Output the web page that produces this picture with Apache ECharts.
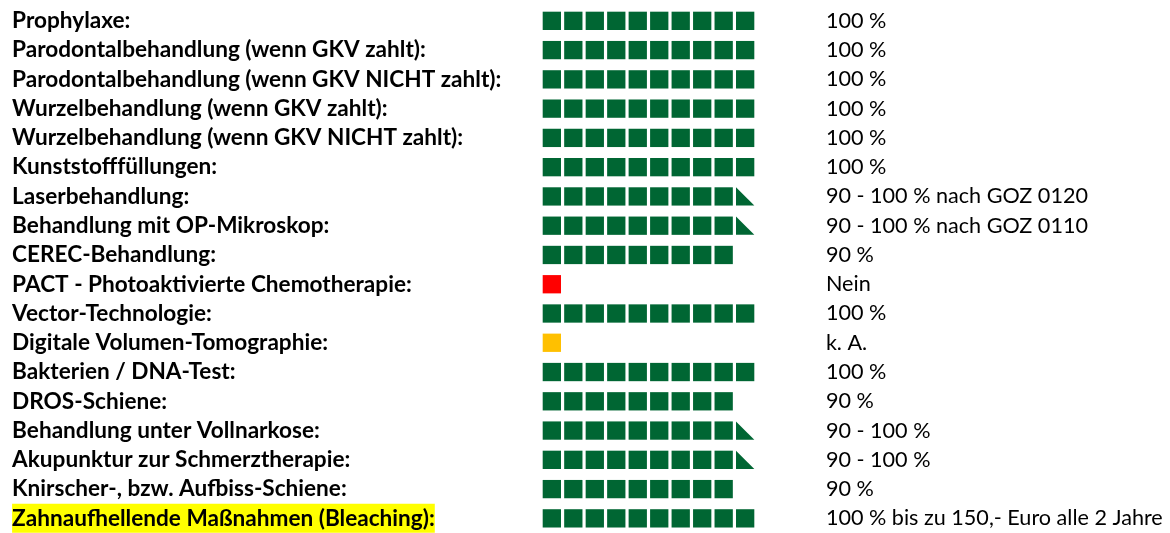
<!DOCTYPE html>
<html>
<head>
<meta charset="utf-8">
<script src="https://cdn.jsdelivr.net/npm/echarts@6/dist/echarts.min.js"></script>
<style>
  html, body { margin: 0; padding: 0; background: #fff; }
  #chart { width: 1170px; height: 533px; }
</style>
</head>
<body>
<div id="chart"></div>
<script>
// Leistungen (Zeilen von oben nach unten)
const labels = [
  'Prophylaxe:',
  'Parodontalbehandlung (wenn GKV zahlt):',
  'Parodontalbehandlung (wenn GKV NICHT zahlt):',
  'Wurzelbehandlung (wenn GKV zahlt):',
  'Wurzelbehandlung (wenn GKV NICHT zahlt):',
  'Kunststofffüllungen:',
  'Laserbehandlung:',
  'Behandlung mit OP-Mikroskop:',
  'CEREC-Behandlung:',
  'PACT - Photoaktivierte Chemotherapie:',
  'Vector-Technologie:',
  'Digitale Volumen-Tomographie:',
  'Bakterien / DNA-Test:',
  'DROS-Schiene:',
  'Behandlung unter Vollnarkose:',
  'Akupunktur zur Schmerztherapie:',
  'Knirscher-, bzw. Aufbiss-Schiene:',
  'Zahnaufhellende Maßnahmen (Bleaching):'
]
// volle Kästchen (je 10 %)
const fullSquares = [10, 10, 10, 10, 10, 10, 9, 9, 9, 1, 10, 1, 10, 9, 9, 9, 9, 10]
// 1 = halbes Kästchen (Dreieck) für "90 - 100 %"
const halfSquares = [0, 0, 0, 0, 0, 0, 1, 1, 0, 0, 0, 0, 0, 0, 1, 1, 0, 0]
// Status: ja / nein / ka (keine Angabe)
const status = ['ja', 'ja', 'ja', 'ja', 'ja', 'ja', 'ja', 'ja', 'ja', 'nein', 'ja', 'ka', 'ja', 'ja', 'ja', 'ja', 'ja', 'ja']
const valueTexts = [
  '100 %', '100 %', '100 %', '100 %', '100 %', '100 %',
  '90 - 100 % nach GOZ 0120',
  '90 - 100 % nach GOZ 0110',
  '90 %', 'Nein', '100 %', 'k. A.', '100 %', '90 %',
  '90 - 100 %', '90 - 100 %', '90 %',
  '100 % bis zu 150,- Euro alle 2 Jahre'
]
const highlightRow = 17

const statusColors = {ja: '#006633', nein: '#ff0000', ka: '#ffc000'}
const font = 'Lato'
const sq = 18.3

let myChart = echarts.init(document.getElementById('chart'))

let option = {
  animation: false,
  grid: {left: 541.1, top: 6.2, width: 214.8, height: 527.4},
  xAxis: {type: 'value', min: 0, max: 10, show: false},
  yAxis: [
    {
      type: 'category',
      inverse: true,
      data: labels,
      axisLine: {show: false},
      axisTick: {show: false},
      splitLine: {show: false},
      axisLabel: {
        interval: 0,
        hideOverlap: false,
        align: 'left',
        margin: 529,
        fontFamily: font,
        fontWeight: 'bold',
        fontSize: 22.6,
        color: '#000',
        formatter: (v, i) => i === highlightRow ? '{hl|' + v + '}' : v,
        rich: {
          hl: {
            backgroundColor: '#ffff00',
            fontFamily: font,
            fontWeight: 'bold',
            fontSize: 22.6,
            color: '#000',
            height: 29,
            lineHeight: 29
          }
        }
      }
    },
    {
      type: 'category',
      inverse: true,
      position: 'right',
      data: labels,
      axisLine: {show: false},
      axisTick: {show: false},
      splitLine: {show: false},
      axisLabel: {
        interval: 0,
        hideOverlap: false,
        align: 'left',
        margin: 70,
        fontFamily: font,
        fontSize: 21.6,
        color: '#000',
        formatter: (v, i) => valueTexts[i]
      }
    }
  ],
  series: [
    {
      type: 'pictorialBar',
      symbol: 'rect',
      symbolRepeat: true,
      symbolSize: [sq, sq],
      symbolMargin: '1.7!',
      data: fullSquares.map((v, i) => ({value: v, itemStyle: {color: statusColors[status[i]]}}))
    },
    {
      type: 'pictorialBar',
      symbol: 'path://M0,0 L0,10 L10,10 Z',
      symbolPosition: 'end',
      symbolSize: [sq, sq],
      symbolOffset: [-1.6, 0],
      itemStyle: {color: statusColors.ja},
      data: halfSquares.map((h, i) => h ? fullSquares[i] + h : '-')
    }
  ]
}
myChart.setOption(option)
</script>
</body>
</html>
